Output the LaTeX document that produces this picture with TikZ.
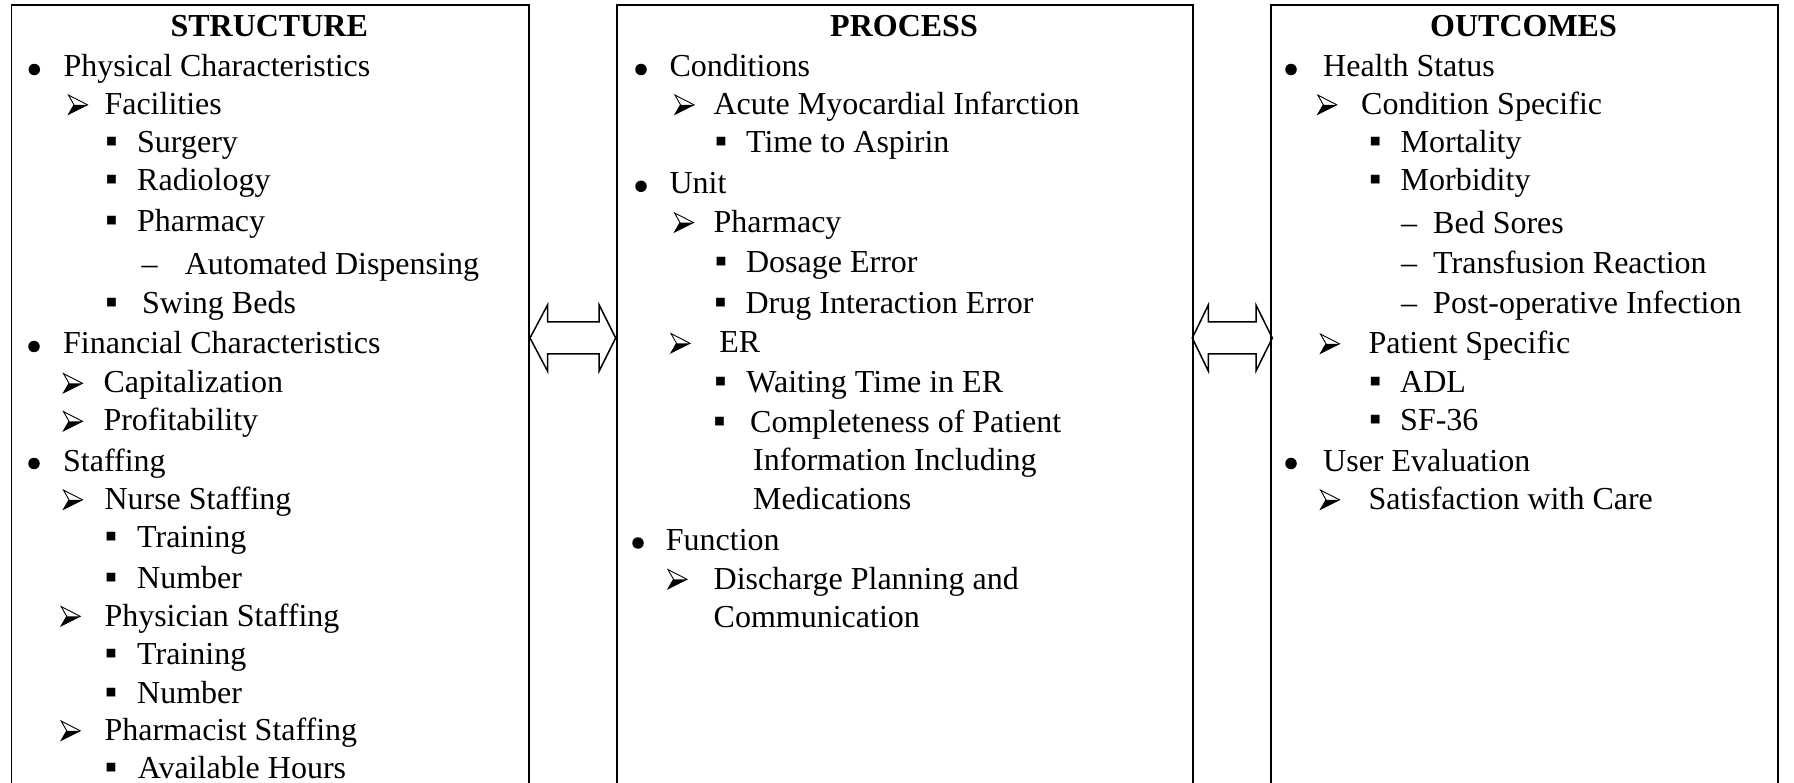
\documentclass[tikz,border=0pt]{standalone}
\usepackage{fontspec}
\setmainfont{Liberation Serif}
\usetikzlibrary{calc}
\tikzset{
  colbox/.style={draw, line width=1.8pt, minimum width=#1, minimum height=840pt, anchor=north west, inner sep=0pt},
  txt/.style={anchor=base west, inner sep=0pt, font=\fontsize{32}{38}\selectfont},
  mk/.style={anchor=base, inner sep=0pt, font=\fontsize{32}{38}\selectfont},
  sqmk/.style={anchor=base, inner sep=0pt, font=\fontsize{35}{38}\selectfont},
  bulletdot/.style={circle, fill=black, inner sep=0pt, minimum size=11.5pt},
  arrowline/.style={line width=0.9pt, line join=miter},
  head/.style={anchor=base, inner sep=0pt, font=\bfseries\fontsize{32}{38}\selectfont},
  blockarrow/.style={draw, line width=1.5pt, fill=white, line join=miter},
}
% markers: name, centre x, baseline
\newcommand\markbul[3]{\node[bulletdot] (#1m) at (#2,#3-7.5) {};}
\newcommand\markarr[3]{%
  \coordinate (#1m) at (#2,#3-9.7);
  \fill ($(#1m)+(-4,0)$) -- ($(#1m)+(9.5,0)$) -- ($(#1m)+(-9.5,9.5)$) -- cycle;
  \draw[arrowline] ($(#1m)+(-9.5,-9.7)$) -- ($(#1m)+(9.5,0)$) -- ($(#1m)+(-9.5,9.5)$)
     -- ($(#1m)+(-4,0)$) -- cycle;}
\newcommand\marksq[3]{\node[sqmk] (#1m) at (#2,#3) {▪};}
\newcommand\markdsh[3]{\node[mk] (#1m) at (#2,#3) {–};}
% name, marker type, marker x, text x, baseline, text
\newcommand\entry[6]{%
  \csname mark#2\endcsname{#1}{#3}{#5}%
  \node[txt] (#1) at (#4,#5) {#6};}
\begin{document}
\begin{tikzpicture}[x=1pt,y=-1pt]
\useasboundingbox (0,0) rectangle (1794,783);
\clip (0,0) rectangle (1794,783);

% double arrows
\coordinate (la) at (530,338);   \coordinate (lb) at (615.7,338);
\coordinate (ra) at (1192.3,338); \coordinate (rb) at (1272.3,338);
\draw[blockarrow] (la) -- ++(17.5,-33) -- ++(0,17) -- ($(lb)+(-16.5,-16)$) -- ++(0,-17)
  -- (lb) -- ++(-16.5,33) -- ++(0,-17) -- ($(la)+(17.5,16)$) -- ++(0,17) -- cycle;
\draw[blockarrow] (ra) -- ++(16,-33) -- ++(0,17) -- ($(rb)+(-16.3,-16)$) -- ++(0,-17)
  -- (rb) -- ++(-16.3,33) -- ++(0,-17) -- ($(ra)+(16,16)$) -- ++(0,17) -- cycle;

% boxes
\node[colbox=517.2] (sbox) at (10.5,4) {};
\node[colbox=576.5] (pbox) at (615.7,4) {};
\node[colbox=507]   (obox) at (1270,4) {};

% headings
\node[head] (sh) at (269.2,37) {STRUCTURE};
\node[head] (ph) at (904,37) {PROCESS};
\node[head] (oh) at (1523.5,37) {OUTCOMES};

% STRUCTURE
\entry{s1}{bul}{34.3}{63.5}{77}{Physical Characteristics}
\entry{s2}{arr}{78}{104.3}{114.5}{Facilities}
\entry{s3}{sq}{111.5}{137}{152.8}{Surgery}
\entry{s4}{sq}{111.5}{137}{190.5}{Radiology}
\entry{s5}{sq}{111.5}{137}{232}{Pharmacy}
\entry{s6}{dsh}{149.5}{184.6}{274.5}{Automated Dispensing}
\entry{s7}{sq}{111.5}{142}{313.5}{Swing Beds}
\entry{s8}{bul}{34}{63}{354}{Financial Characteristics}
\entry{s9}{arr}{73}{103.3}{393}{Capitalization}
\entry{s10}{arr}{73}{103.3}{431}{Profitability}
\entry{s11}{bul}{34}{63}{471}{Staffing}
\entry{s12}{arr}{73}{104.3}{509.5}{Nurse Staffing}
\entry{s13}{sq}{111}{137}{547.3}{Training}
\entry{s14}{sq}{111}{137}{588.5}{Number}
\entry{s15}{arr}{70.7}{104.3}{626}{Physician Staffing}
\entry{s16}{sq}{111}{137}{664.5}{Training}
\entry{s17}{sq}{111}{137}{703}{Number}
\entry{s18}{arr}{70.7}{104.3}{740.5}{Pharmacist Staffing}
\entry{s19}{sq}{111}{137.7}{778.5}{Available Hours}

% PROCESS
\entry{p1}{bul}{641}{669.3}{77}{Conditions}
\entry{p2}{arr}{684.5}{713.3}{114.5}{Acute Myocardial Infarction}
\entry{p3}{sq}{721}{745.9}{152.8}{Time to Aspirin}
\entry{p4}{bul}{641}{669.3}{193.8}{Unit}
\entry{p5}{arr}{684}{713.3}{232.3}{Pharmacy}
\entry{p6}{sq}{721}{745.9}{272.3}{Dosage Error}
\entry{p7}{sq}{720.6}{745.4}{313.5}{Drug Interaction Error}
\entry{p8}{arr}{680.5}{719.1}{353}{ER}
\entry{p9}{sq}{720.6}{746.2}{393}{Waiting Time in ER}
\entry{p10}{sq}{719.5}{750}{432}{Completeness of Patient}
\node[txt] (p10b) at (753,470.5) {Information Including};
\node[txt] (p10c) at (753,509.5) {Medications};
\entry{p11}{bul}{638}{665.7}{550.5}{Function}
\entry{p12}{arr}{677.5}{713.5}{589}{Discharge Planning and}
\node[txt] (p12b) at (713.5,627) {Communication};

% OUTCOMES
\entry{o1}{bul}{1291}{1323}{77}{Health Status}
\entry{o2}{arr}{1327.3}{1361}{114.5}{Condition Specific}
\entry{o3}{sq}{1375.3}{1400.5}{153}{Mortality}
\entry{o4}{sq}{1375.3}{1400.5}{190.5}{Morbidity}
\entry{o5}{dsh}{1409}{1433}{233.5}{Bed Sores}
\entry{o6}{dsh}{1409}{1433}{273.5}{Transfusion Reaction}
\entry{o7}{dsh}{1409}{1433}{314}{Post-operative Infection}
\entry{o8}{arr}{1330}{1368.3}{353.5}{Patient Specific}
\entry{o9}{sq}{1375.3}{1400}{393}{ADL}
\entry{o10}{sq}{1375.3}{1400}{431}{SF-36}
\entry{o11}{bul}{1291}{1323}{471}{User Evaluation}
\entry{o12}{arr}{1330}{1368.3}{509.5}{Satisfaction with Care}
\end{tikzpicture}
\end{document}
